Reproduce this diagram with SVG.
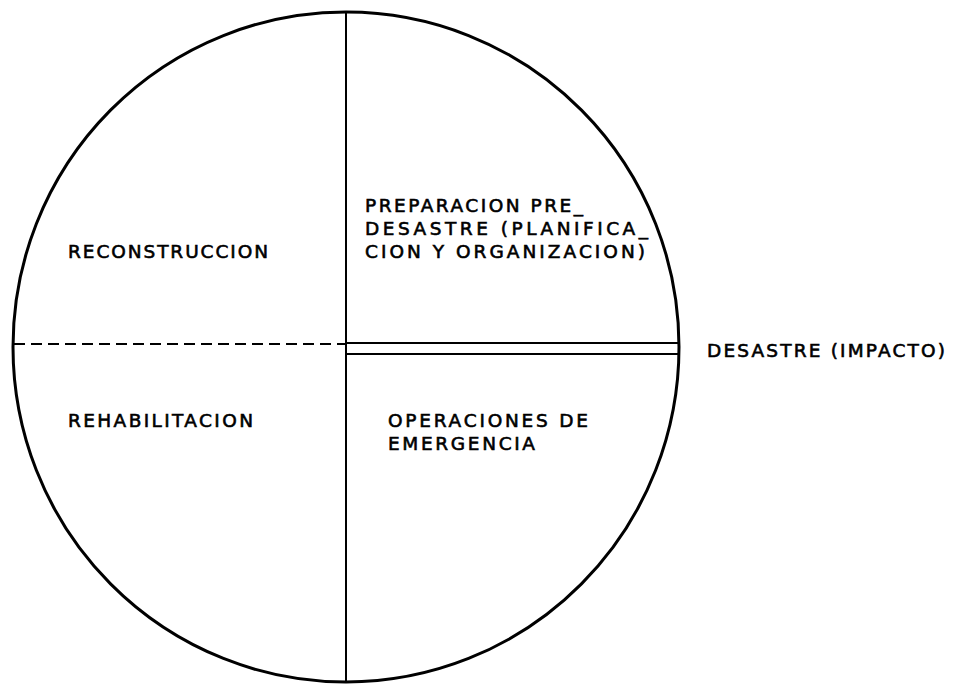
<svg xmlns="http://www.w3.org/2000/svg" width="962" height="685" viewBox="0 0 962 685">
<style>
.t{font-family:"DejaVu Sans","Liberation Sans",sans-serif;font-size:18.5px;fill:#000;stroke:#000;stroke-width:0.6px}
.ln{stroke:#000;fill:none}
</style>
<rect width="962" height="685" fill="#fff"/>
<g id="connectors">
<ellipse class="ln" cx="346" cy="347" rx="333" ry="335" stroke-width="3"/>
<line class="ln" x1="346" y1="12" x2="346" y2="683" stroke-width="2"/>
<line class="ln" x1="14" y1="344" x2="346" y2="344" stroke-width="2" stroke-dasharray="11,6"/>
<line class="ln" x1="346" y1="343" x2="679" y2="343" stroke-width="2"/>
<line class="ln" x1="346" y1="354" x2="679" y2="354" stroke-width="2"/>
</g>
<g id="reconstruccion"><text class="t" x="68" y="258" textLength="200" lengthAdjust="spacing">RECONSTRUCCION</text></g>
<g id="preparacion">
<text class="t" x="365" y="212" textLength="218" lengthAdjust="spacing">PREPARACION PRE_</text>
<text class="t" x="365" y="235" textLength="283" lengthAdjust="spacing">DESASTRE (PLANIFICA_</text>
<text class="t" x="365" y="258" textLength="280" lengthAdjust="spacing">CION Y ORGANIZACION)</text>
</g>
<g id="rehabilitacion"><text class="t" x="68" y="427" textLength="185" lengthAdjust="spacing">REHABILITACION</text></g>
<g id="operaciones">
<text class="t" x="388" y="427" textLength="200" lengthAdjust="spacing">OPERACIONES DE</text>
<text class="t" x="388" y="450" textLength="147" lengthAdjust="spacing">EMERGENCIA</text>
</g>
<g id="desastre"><text class="t" x="707" y="357" textLength="238" lengthAdjust="spacing">DESASTRE (IMPACTO)</text></g>
</svg>
